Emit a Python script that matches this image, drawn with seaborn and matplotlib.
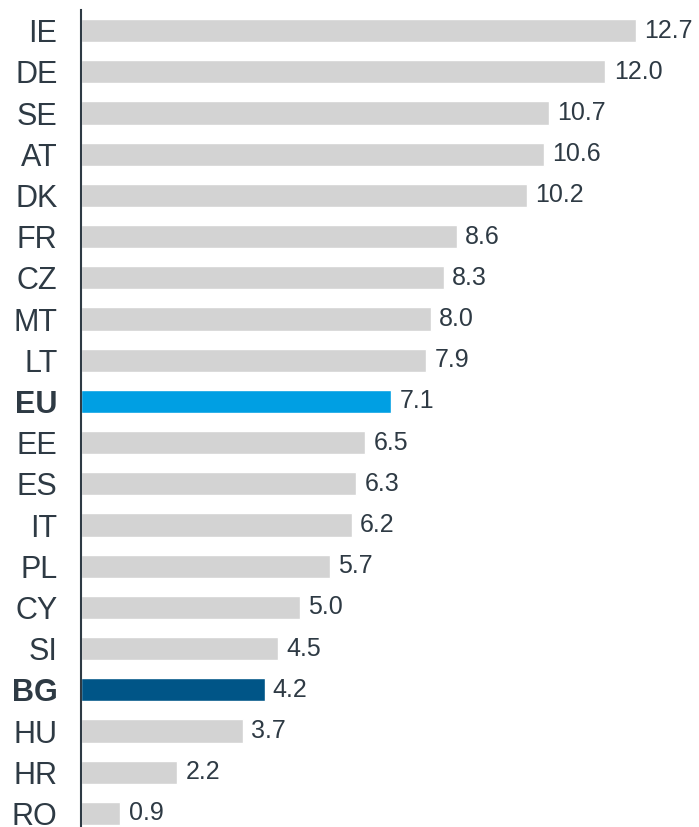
import matplotlib
matplotlib.use("Agg")
import matplotlib.pyplot as plt
import seaborn as sns
import pandas as pd

countries = ["IE", "DE", "SE", "AT", "DK", "FR", "CZ", "MT", "LT", "EU",
             "EE", "ES", "IT", "PL", "CY", "SI", "BG", "HU", "HR", "RO"]
values = [12.7, 12.0, 10.7, 10.6, 10.2, 8.6, 8.3, 8.0, 7.9, 7.1,
          6.5, 6.3, 6.2, 5.7, 5.0, 4.5, 4.2, 3.7, 2.2, 0.9]
highlight = {"EU": "#009FE3", "BG": "#005587"}

sns.set_theme(style="white")
plt.rcParams["font.family"] = ["Liberation Sans", "DejaVu Sans"]
text_color = "#2E3A44"

df = pd.DataFrame({"country": countries, "value": values})
palette = {c: highlight.get(c, "#D3D3D3") for c in countries}

fig = plt.figure(figsize=(6.99, 8.27), dpi=100)
ax = fig.add_axes([81 / 699, 0, 618 / 699, 817 / 827])
sns.barplot(data=df, x="value", y="country", hue="country", palette=palette,
            order=countries, width=0.56, legend=False, saturation=1, ax=ax)

for i, v in enumerate(values):
    ax.text(v + 0.19, i, f"{v:.1f}", va="center", ha="left",
            fontsize=18, color=text_color)

ax.set_xlim(0, 618 / 43.7)
ax.set_ylim(19.33, -0.5)
ax.set_xlabel("")
ax.set_ylabel("")
ax.set_xticks([])
for s in ["top", "right", "bottom"]:
    ax.spines[s].set_visible(False)
ax.spines["left"].set_color(text_color)
ax.spines["left"].set_linewidth(1.5)
ax.tick_params(axis="y", length=0, pad=17, labelsize=22, labelcolor=text_color)
for lbl in ax.get_yticklabels():
    if lbl.get_text() in highlight:
        lbl.set_fontweight("bold")

fig.savefig("out.png", dpi=100)
